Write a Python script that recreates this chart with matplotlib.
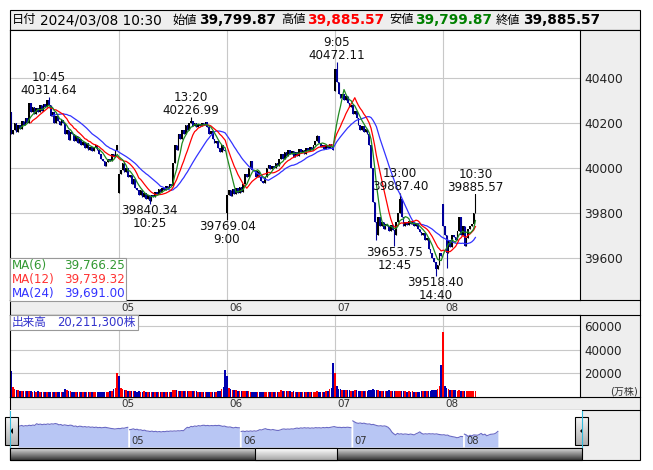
import numpy as np
import pandas as pd
import matplotlib
matplotlib.use('Agg')
import matplotlib.pyplot as plt
from matplotlib.patches import Rectangle, Polygon

plt.rcParams['font.family'] = ['DejaVu Sans', 'Noto Sans CJK JP']

# ---- dati (barre da 5 minuti) ----
giorni = ['04', '05', '06', '07', '08']
apertura_giorno = [40250, 39890, 39800, 40340, 39840]

chiusure_04 = [40150, 40170, 40200, 40160, 40190, 40175, 40210, 40190, 40220, 40200,
               40290, 40250, 40270, 40240, 40265, 40250, 40280, 40255, 40285, 40270,
               40300, 40280, 40230, 40250, 40200, 40230, 40210, 40190, 40215, 40200,
               40150, 40170, 40125, 40160, 40150, 40120, 40140, 40110, 40130, 40100,
               40115, 40090, 40110, 40080, 40095, 40075, 40090, 40100, 40080, 40060,
               40040, 40030, 40010, 40025, 40040, 40030, 40060, 40050, 40080, 40100]
chiusure_05 = [39975, 39990, 40020, 39980, 40000, 39960, 39970, 39930, 39950, 39910,
               39900, 39880, 39900, 39870, 39890, 39860, 39880, 39855, 39880, 39870,
               39895, 39885, 39905, 39895, 39910, 39900, 39920, 39910, 39930, 39920,
               40020, 40100, 40080, 40150, 40130, 40170, 40150, 40190, 40170, 40200,
               40210, 40185, 40200, 40180, 40195, 40185, 40200, 40190, 40205, 40180,
               40150, 40165, 40130, 40110, 40120, 40090, 40070, 40100, 40080, 40075]
chiusure_06 = [39880, 39900, 39875, 39905, 39885, 39910, 39890, 39915, 39895, 39930,
               39975, 39960, 40000, 40030, 39990, 39985, 39960, 39985, 39960, 39940,
               39935, 39960, 40000, 40015, 39995, 40010, 40000, 40020, 40010, 40040,
               40060, 40040, 40070, 40055, 40080, 40060, 40075, 40050, 40070, 40055,
               40085, 40070, 40080, 40060, 40090, 40075, 40095, 40080, 40100, 40120,
               40140, 40110, 40095, 40100, 40085, 40100, 40090, 40105, 40095, 40080]
chiusure_07 = [40440, 40380, 40330, 40310, 40330, 40300, 40320, 40290, 40270, 40280,
               40240, 40255, 40220, 40190, 40170, 40185, 40160, 40175, 40150, 40100,
               40000, 39850, 39760, 39700, 39780, 39740, 39760, 39730, 39750, 39740,
               39720, 39745, 39725, 39700, 39760, 39800, 39860, 39780, 39740, 39760,
               39745, 39765, 39750, 39760, 39740, 39755, 39730, 39715, 39700, 39710,
               39680, 39690, 39640, 39620, 39600, 39580, 39550, 39570, 39620, 39610]
chiusure_08 = [39740, 39700, 39620, 39680, 39650, 39700, 39692.17, 39680, 39720, 39780,
               39700, 39740, 39654.33, 39690, 39730, 39740, 39752.06, 39799.87, 39885.57]

volumi_04 = [22000, 8500, 7000, 6000, 5500, 5200, 5000, 5300, 4800, 5000,
             4700, 5000, 4600, 4800, 4500, 4700, 4400, 4600, 4300, 4500,
             4400, 4200, 4500, 4300, 4100, 4400, 4200, 4000, 4300, 4600,
             6500, 5800, 5200, 4800, 4600, 4400, 4300, 4200, 4100, 4000,
             4200, 4100, 3900, 4000, 4100, 4000, 3900, 4000, 4100, 4000,
             4200, 4300, 4100, 4400, 4600, 4800, 5200, 6500, 8000, 20000]
volumi_05 = [18000, 7500, 6500, 6000, 5500, 5200, 5000, 4800, 5000, 4700,
             4500, 4800, 4600, 4400, 4700, 4500, 4300, 4600, 4400, 4200,
             4300, 4100, 4000, 4200, 4100, 3900, 4000, 4100, 4300, 4500,
             5500, 5800, 5600, 5200, 5400, 5000, 5300, 5100, 5200, 4900,
             5100, 4800, 4900, 4700, 4500, 4600, 4400, 4300, 4500, 4200,
             4400, 4300, 4100, 4400, 4500, 4700, 5000, 6500, 8500, 22500]
volumi_06 = [18000, 8000, 6500, 6200, 5800, 5500, 5300, 5000, 5200, 4900,
             4700, 5000, 4800, 4600, 4500, 4400, 4600, 4300, 4500, 4200,
             4400, 4300, 4100, 4200, 4000, 4100, 3900, 4000, 4200, 4400,
             5600, 5400, 5200, 5000, 4800, 4700, 4600, 4800, 4500, 4400,
             4300, 4500, 4200, 4400, 4300, 4100, 4300, 4200, 4400, 4500,
             4800, 4600, 4400, 4300, 4500, 4700, 5200, 6500, 8000, 29000]
volumi_07 = [20000, 9000, 7000, 6500, 6200, 6000, 5800, 5500, 5600, 5400,
             5300, 5600, 5500, 5200, 5400, 5100, 5300, 5000, 5200, 5600,
             6000, 6500, 6200, 5800, 5500, 5200, 5000, 4800, 4700, 4900,
             5500, 5300, 5000, 5200, 5400, 5200, 5000, 4800, 4700, 4900,
             4600, 4800, 4500, 4700, 4600, 4400, 4500, 4600, 4800, 4700,
             4900, 5000, 5200, 5400, 5600, 5800, 6000, 7000, 9000, 27000]
volumi_08 = [55000, 9000, 8000, 6500, 6200, 6000, 5500, 5800, 5400, 5600,
             5200, 5400, 5000, 5300, 5100, 5000, 5200, 4900, 5100]

# massimi / minimi marcati (giorno, barra, tipo, valore)
segni_giorno = [0, 1, 1, 2, 3, 3, 3, 3, 4]
segni_barra = [21, 17, 40, 0, 1, 33, 36, 56, 18]
segni_tipo = ['H', 'L', 'H', 'L', 'H', 'L', 'H', 'L', 'H']
segni_valore = [40314.64, 39840.34, 40226.99, 39769.04, 40472.11,
                39653.75, 39887.40, 39518.40, 39885.57]
# ombre senza etichetta
ombre_giorno = [3, 4, 2]
ombre_barra = [23, 2, 50]
ombre_tipo = ['L', 'L', 'H']
ombre_valore = [39680, 39556, 40147]

volume_testo = '20,211,300株'

# ---- preparazione ----
chiusure = np.array(chiusure_04 + chiusure_05 + chiusure_06 + chiusure_07 + chiusure_08, dtype=float)
volumi = np.array(volumi_04 + volumi_05 + volumi_06 + volumi_07 + volumi_08, dtype=float)
N = len(chiusure)
idx = np.arange(N)
aperture = np.r_[np.nan, chiusure[:-1]]
for d, o in enumerate(apertura_giorno):
    aperture[60 * d] = o
massimi = np.maximum(aperture, chiusure)
minimi = np.minimum(aperture, chiusure)
for d, j, t, v in list(zip(segni_giorno, segni_barra, segni_tipo, segni_valore)) + \
        list(zip(ombre_giorno, ombre_barra, ombre_tipo, ombre_valore)):
    if t == 'H':
        massimi[60 * d + j] = v
    else:
        minimi[60 * d + j] = v

s = pd.Series(chiusure)
ma6 = s.rolling(6).mean()
ma12 = s.rolling(12).mean()
ma24 = s.rolling(24).mean()

W, H = 653, 470
fig = plt.figure(figsize=(W / 100, H / 100), dpi=100)


def box(x0, y0, x1, y1):
    return fig.add_axes([x0 / W, 1 - y1 / H, (x1 - x0) / W, (y1 - y0) / H])


def pix_axes():
    a = box(0, 0, W, H)
    a.set_xlim(0, W)
    a.set_ylim(H, 0)
    a.axis('off')
    return a


bg = pix_axes()
GRIGIO = '#eeeeee'
bg.add_patch(Rectangle((10, 10), 630, 20, fc=GRIGIO, ec='black', lw=0.8))
bg.add_patch(Rectangle((10, 30), 630, 430, fc=GRIGIO, ec='black', lw=0.8))
for yy in [300, 315, 397, 410]:
    bg.plot([10, 640], [yy, yy], color='black', lw=0.8)

# intestazione
yh = 20
pezzi = [(12, '日付', 'black', 'normal', 8.8),
         (40, '2024/03/08 10:30', 'black', 'normal', 9.8),
         (172, '始値', 'black', 'normal', 8.8),
         (199, f'{aperture[-1]:,.2f}', 'black', 'bold', 9.8),
         (281, '高値', 'black', 'normal', 8.8),
         (307, f'{massimi[-1]:,.2f}', '#ff0000', 'bold', 9.8),
         (389, '安値', 'black', 'normal', 8.8),
         (415, f'{minimi[-1]:,.2f}', '#008000', 'bold', 9.8),
         (496, '終値', 'black', 'normal', 8.8),
         (523, f'{chiusure[-1]:,.2f}', 'black', 'bold', 9.8)]
for x, t, c, w, fs in pezzi:
    bg.text(x, yh, t, color=c, fontweight=w, fontsize=fs, va='center', ha='left')

# etichette date nelle strisce
for d in range(1, 5):
    xp = 11 + 108 * d
    bg.text(xp + 2, 308, giorni[d], fontsize=7.5, color='#333333', va='center')
    bg.text(xp + 2, 404, giorni[d], fontsize=7.5, color='#333333', va='center')

# ---- prezzi ----
XMIN = -0.56
XMAX = XMIN + 570 / 1.8
ax = box(10, 30, 580, 300)
ax.set_facecolor('white')
ax.set_xlim(XMIN, XMAX)
ax.set_ylim(39413, 40613)
for sp in ax.spines.values():
    sp.set_linewidth(0.8)
ax.set_xticks([])
ax.set_yticks([39600, 39800, 40000, 40200, 40400])
ax.yaxis.tick_right()
ax.tick_params(axis='y', length=0, pad=3, labelsize=8.8, labelcolor='#222222')
ax.grid(axis='y', color='#c8c8c8', lw=0.8)
ax.set_axisbelow(True)
for d in range(1, 5):
    ax.axvline(60 * d, color='#c8c8c8', lw=0.8, zorder=0)

su = chiusure >= aperture
col_candele = np.where(su, '#000000', '#000099')
ax.vlines(idx, minimi, massimi, colors=col_candele, lw=0.8, zorder=2)
corpo = np.maximum(np.abs(chiusure - aperture), 2)
ax.bar(idx, corpo, bottom=np.minimum(aperture, chiusure), width=0.95,
       color=col_candele, lw=0, zorder=2)

ax.plot(idx, ma24, color='#3333ff', lw=0.9, zorder=3)
ax.plot(idx, ma12, color='#ff0000', lw=0.9, zorder=3)
ax.plot(idx, ma6, color='#1f8a1f', lw=0.9, zorder=3)

for d, j, t, v in zip(segni_giorno, segni_barra, segni_tipo, segni_valore):
    minuti = 9 * 60 + 5 * j if j < 30 else 12 * 60 + 30 + 5 * (j - 30)
    ora = f'{minuti // 60}:{minuti % 60:02d}'
    if t == 'H':
        ax.text(60 * d + j, v, f'{ora}\n{v:.2f}', ha='center', va='bottom',
                fontsize=8.6, linespacing=1.0, color='#111111', zorder=4)
    else:
        ax.text(60 * d + j, v, f'{v:.2f}\n{ora}', ha='center', va='top',
                fontsize=8.6, linespacing=1.0, color='#111111', zorder=4)

# ---- volumi ----
av = box(10, 315, 580, 397)
av.set_facecolor('white')
av.set_xlim(XMIN, XMAX)
av.set_ylim(0, 69300)
for sp in av.spines.values():
    sp.set_linewidth(0.8)
av.set_xticks([])
av.set_yticks([20000, 40000, 60000])
av.yaxis.tick_right()
av.tick_params(axis='y', length=0, pad=3, labelsize=8.6, labelcolor='#222222')
av.grid(axis='y', color='#c8c8c8', lw=0.8)
av.set_axisbelow(True)
for d in range(1, 5):
    av.axvline(60 * d, color='#c8c8c8', lw=0.8, zorder=0)
prec = np.r_[aperture[0], chiusure[:-1]]
col_vol = np.where(chiusure >= prec, '#ff0000', '#0000b0')
av.bar(idx, volumi, width=0.8, color=col_vol, lw=0, zorder=2)
bg.text(638, 392, '(万株)', fontsize=7.2, color='#333333', ha='right', va='center')

# ---- navigatore ----
an = box(10, 410, 582, 447)
an.set_facecolor('white')
NX0 = -8 / 1.86
an.set_xlim(NX0, NX0 + 572 / 1.86)
base = 39062
an.set_ylim(base, 41014)
an.axis('off')
an.add_patch(Rectangle((NX0, base), 572 / 1.86, 41014 - base, fc='white', lw=0, zorder=0))
for d in range(5):
    seg = slice(60 * d, min(60 * d + 60, N))
    an.fill_between(idx[seg], chiusure[seg], base, color='#b8c6f4', lw=0, zorder=1)
    an.plot(idx[seg], chiusure[seg], color='#6a6ac4', lw=0.8, zorder=2)
    if d > 0:
        an.text(60 * d + 1, base + 60, giorni[d], fontsize=7.2, color='#333333',
                va='bottom', ha='left', zorder=3)

# ---- sovrapposizioni ----
ov = pix_axes()
# legenda medie mobili
ov.add_patch(Rectangle((10, 258), 116, 43, fc='white', ec='#999999', lw=0.8))
righe = [('MA(6)', ma6.iloc[-1], '#339933'),
         ('MA(12)', ma12.iloc[-1], '#ff3333'),
         ('MA(24)', ma24.iloc[-1], '#3333ff')]
for k, (nome, val, c) in enumerate(righe):
    yy = 266 + 14 * k
    ov.text(12, yy, nome, color=c, fontsize=8.6, va='center', ha='left')
    ov.text(125, yy, f'{val:,.2f}', color=c, fontsize=8.6, va='center', ha='right')
# legenda volume
ov.add_patch(Rectangle((10, 315), 128, 15, fc='white', ec='#999999', lw=0.8))
ov.text(12, 322.5, '出来高', color='#3333cc', fontsize=8.4, va='center', ha='left')
ov.text(136, 322.5, volume_testo, color='#3333cc', fontsize=8.4, va='center', ha='right')

# bordi ciano navigatore
ov.plot([10, 10], [411, 447], color='#33bbdd', lw=0.8)
ov.plot([582, 582], [411, 447], color='#33bbdd', lw=0.8)

# barra di scorrimento
def sfumatura(x0, x1, y0, y1, c_alto, c_basso):
    c_alto = np.array(matplotlib.colors.to_rgb(c_alto))
    c_basso = np.array(matplotlib.colors.to_rgb(c_basso))
    n = int(y1 - y0)
    for k in range(n):
        f = k / max(n - 1, 1)
        ov.add_patch(Rectangle((x0, y0 + k), x1 - x0, 1, fc=c_alto * (1 - f) + c_basso * f, lw=0))
    ov.add_patch(Rectangle((x0, y0), x1 - x0, y1 - y0, fc='none', ec='black', lw=0.8))


sfumatura(10, 582, 448, 460, '#d8d8d8', '#3c3c3c')
sfumatura(255, 337, 448, 460, '#ffffff', '#a8a8a8')
# pulsanti
for xb in [5, 575]:
    sfumatura(xb, xb + 13, 417, 445, '#f4f4f4', '#b0b0b0')
    ov.add_patch(Polygon([[xb + 8, 428], [xb + 8, 434], [xb + 5, 431]], closed=True, fc='black', lw=0))

fig.savefig('out.png', dpi=100)
